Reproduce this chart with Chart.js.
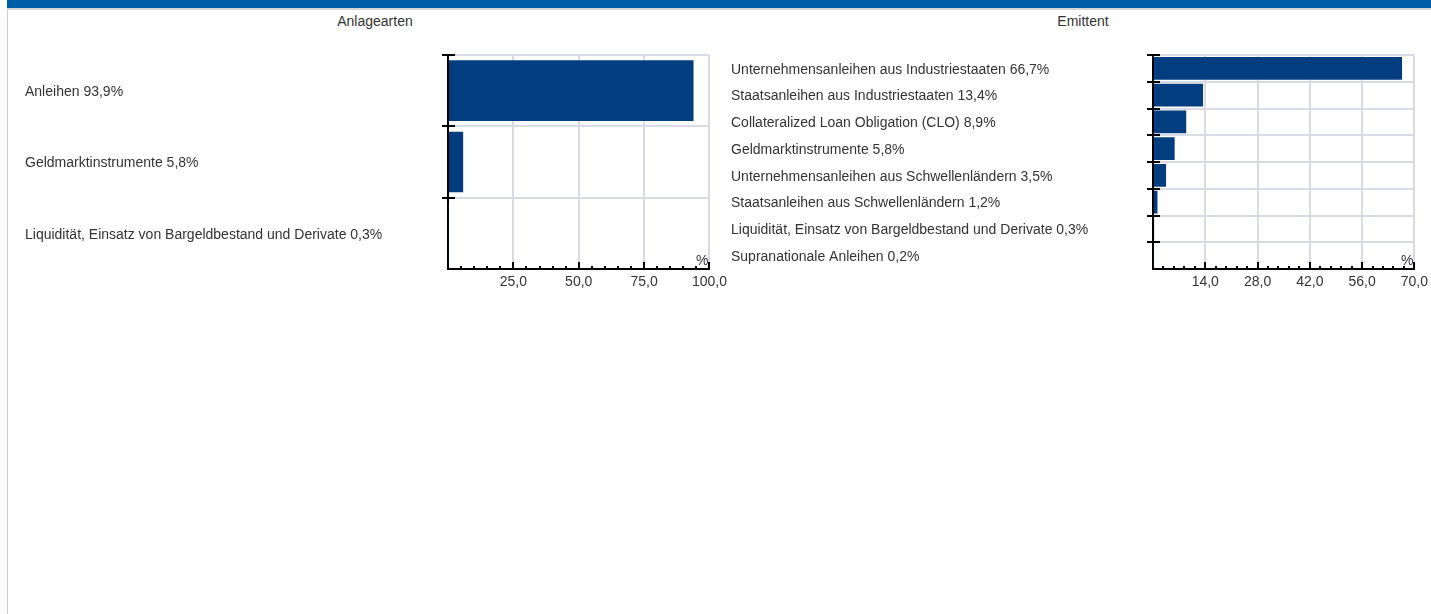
<!DOCTYPE html>
<html>
<head>
<meta charset="utf-8">
<script src="https://cdn.jsdelivr.net/npm/chart.js@4.4.1/dist/chart.umd.min.js"></script>
<style>
  html, body { overflow: hidden; }
  body { margin: 0; background: #fff; font-family: "Liberation Sans", Arial, sans-serif; }
  #rahmen { position: absolute; left: 7px; top: 0; width: 1424px; height: 614px; border-left: 1px solid #cccccc; }
  #kopf { position: absolute; left: 7px; top: 0; width: 1424px; height: 8px; background: #005ea8; border-bottom: 2px solid #d6d6d6; }
  .titel { position: absolute; top: 13px; font-size: 14px; line-height: 16px; color: #333; text-align: center; }
  .box { position: absolute; top: 40px; height: 260px; }
</style>
</head>
<body>
<div id="rahmen"></div>
<div id="kopf"></div>
<div class="titel" style="left:7px;width:736px;">Anlagearten</div>
<div class="titel" style="left:743px;width:680px;">Emittent</div>
<div class="box" style="left:25px;width:707px;"><canvas id="grafico_anlage"></canvas></div>
<div class="box" style="left:731px;width:702px;"><canvas id="grafico_emittent"></canvas></div>
<script>
// Anlagearten
const anlageNamen = ['Anleihen', 'Geldmarktinstrumente', 'Liquidität, Einsatz von Bargeldbestand und Derivate'];
const anlageWerte = [93.9, 5.8, 0.3];
const anlageAchse = [0, 100, 25, 5]; // min, max, Hauptschritt, Nebenschritt

// Emittent
const emittentNamen = [
  'Unternehmensanleihen aus Industriestaaten',
  'Staatsanleihen aus Industriestaaten',
  'Collateralized Loan Obligation (CLO)',
  'Geldmarktinstrumente',
  'Unternehmensanleihen aus Schwellenländern',
  'Staatsanleihen aus Schwellenländern',
  'Liquidität, Einsatz von Bargeldbestand und Derivate',
  'Supranationale Anleihen'
];
const emittentWerte = [66.7, 13.4, 8.9, 5.8, 3.5, 1.2, 0.3, 0.2];
const emittentAchse = [0, 70, 14, 2.8];

const blau = '#023d80';
const gitter = '#d8dbe4';
const textFarbe = '#333333';
const schrift = { family: '"Liberation Sans", Arial, sans-serif', size: 14 };

function zahl(v) {
  return v.toFixed(1).replace('.', ',');
}

// Achsen-Striche wie im Original: kleine Striche nach innen, Kategorie-Striche quer
const achsenStriche = {
  id: 'achsenStriche',
  afterDraw(chart, args, opts) {
    const ctx = chart.ctx;
    const x = chart.scales.x;
    const y = chart.scales.y;
    const unten = chart.chartArea.bottom;
    const links = chart.chartArea.left;
    ctx.save();
    ctx.strokeStyle = '#000';
    ctx.lineWidth = 2;
    const n = Math.round((opts.max - opts.min) / opts.neben);
    for (let i = 1; i <= n; i++) {
      const v = opts.min + i * opts.neben;
      const px = Math.round(x.getPixelForValue(v));
      const haupt = Math.abs(v / opts.haupt - Math.round(v / opts.haupt)) < 1e-6;
      ctx.beginPath();
      ctx.moveTo(px, unten);
      ctx.lineTo(px, unten - (haupt ? 7 : 3));
      ctx.stroke();
    }
    const anzahl = chart.data.labels.length;
    const abstand = Math.abs(y.getPixelForValue(1) - y.getPixelForValue(0));
    for (let i = 0; i < anzahl; i++) {
      const py = Math.round(y.getPixelForValue(i) - abstand / 2);
      ctx.beginPath();
      ctx.moveTo(links - 6, py);
      ctx.lineTo(links + 7, py);
      ctx.stroke();
    }
    ctx.fillStyle = textFarbe;
    ctx.font = '14px "Liberation Sans", Arial, sans-serif';
    ctx.textAlign = 'right';
    ctx.textBaseline = 'alphabetic';
    ctx.fillText('%', chart.chartArea.right - 1, unten - 4);
    ctx.restore();
  }
};

function balken(id, namen, werte, achse, yBreite, rechts) {
  const [min, max, haupt, neben] = achse;
  new Chart(document.getElementById(id), {
    type: 'bar',
    data: {
      labels: namen.map((n, i) => n + ' ' + zahl(werte[i]) + '%'),
      datasets: [{
        data: werte,
        backgroundColor: blau,
        borderWidth: 0,
        barPercentage: 0.85,
        categoryPercentage: 1
      }]
    },
    options: {
      indexAxis: 'y',
      responsive: true,
      maintainAspectRatio: false,
      animation: false,
      layout: { padding: { top: 15, right: rechts, bottom: 0, left: 0 } },
      plugins: {
        legend: { display: false },
        tooltip: { enabled: false },
        achsenStriche: { min: min, max: max, haupt: haupt, neben: neben }
      },
      scales: {
        x: {
          min: min,
          max: max,
          grid: { color: gitter, lineWidth: 2, drawTicks: false },
          border: { color: '#000', width: 2 },
          ticks: {
            stepSize: haupt,
            padding: 5,
            color: textFarbe,
            font: schrift,
            maxRotation: 0,
            callback: v => v === min ? '' : zahl(v)
          },
          afterFit: s => { s.height = 31; }
        },
        y: {
          grid: { color: gitter, lineWidth: 2, drawTicks: false },
          border: { color: '#000', width: 2 },
          ticks: {
            crossAlign: 'far',
            labelOffset: 1.5,
            color: textFarbe,
            font: schrift,
            autoSkip: false
          },
          afterFit: s => { s.width = yBreite; }
        }
      }
    },
    plugins: [achsenStriche]
  });
}

balken('grafico_anlage', anlageNamen, anlageWerte, anlageAchse, 423, 18);
balken('grafico_emittent', emittentNamen, emittentWerte, emittentAchse, 422, 15);
</script>
</body>
</html>
